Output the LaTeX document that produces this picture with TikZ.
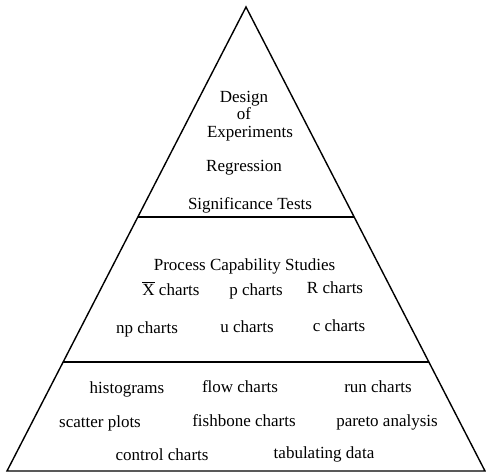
\documentclass[tikz,border=0pt]{standalone}
\usepackage{fontspec}
\setmainfont{Liberation Serif}
\begin{document}
\begin{tikzpicture}[x=1pt,y=-1pt,
  edge/.style={line width=1.4pt,line join=miter},
  lbl/.style={anchor=base,inner sep=0pt,font=\fontsize{17}{20}\selectfont}]
\useasboundingbox (0,0) rectangle (486,473);
\coordinate (apex) at (246,7);
\coordinate (bl) at (7,471);
\coordinate (br) at (485,471);
\coordinate (l1) at (137.8,217);
\coordinate (r1) at (354.2,217);
\coordinate (l2) at (63.2,362);
\coordinate (r2) at (428.8,362);
\draw[edge] (bl) -- (apex) -- (br) -- cycle;
\draw[edge] (l1) -- (r1);
\draw[edge] (l2) -- (r2);
% top tier
\node[lbl] (design) at (244,103) {Design};
\node[lbl] (of) at (244,120) {of};
\node[lbl] (exp) at (250,137) {Experiments};
\node[lbl] (reg) at (244,171) {Regression};
\node[lbl] (sig) at (250,209) {Significance Tests};
% middle tier
\node[lbl] (pcs) at (244.5,270) {Process Capability Studies};
\node[lbl] (xbar) at (171,295) {$\overline{\hbox{X}}$ charts};
\node[lbl] (pch) at (256,295) {p charts};
\node[lbl] (rch) at (335,293) {R charts};
\node[lbl] (npch) at (147,333) {np charts};
\node[lbl] (uch) at (247,332) {u charts};
\node[lbl] (cch) at (339,331) {c charts};
% bottom tier
\node[lbl] (hist) at (127,393) {histograms};
\node[lbl] (flow) at (240,392) {flow charts};
\node[lbl] (run) at (378,392) {run charts};
\node[lbl] (scat) at (100,427) {scatter plots};
\node[lbl] (fish) at (244,426) {fishbone charts};
\node[lbl] (par) at (387,426) {pareto analysis};
\node[lbl] (ctrl) at (162,460) {control charts};
\node[lbl] (tab) at (324,458) {tabulating data};
\end{tikzpicture}
\end{document}
